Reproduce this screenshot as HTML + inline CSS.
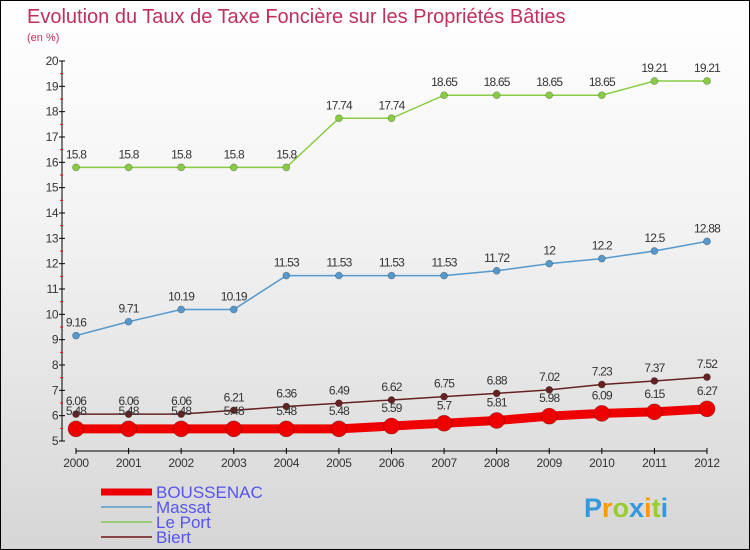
<!DOCTYPE html>
<html><head><meta charset="utf-8"><style>
body{margin:0}
#c{position:relative;width:748px;height:548px;border:1px solid #000;background:linear-gradient(#fff,#f3f3f3 40%,#d6d6d6);font-family:"Liberation Sans","DejaVu Sans",sans-serif;overflow:hidden}
</style></head><body>
<div id="c">
<svg id="s" width="748" height="548" style="position:absolute;left:0;top:0">
<text x="26" y="22" font-size="20" fill="#c0305a">Evolution du Taux de Taxe Foncière sur les Propriétés Bâties</text>
<text x="26" y="40" font-size="11" fill="#c0305a">(en %)</text>
</svg>
</div>
<script>
const years=[2000,2001,2002,2003,2004,2005,2006,2007,2008,2009,2010,2011,2012];
const boussenac=[5.48,5.48,5.48,5.48,5.48,5.48,5.59,5.7,5.81,5.98,6.09,6.15,6.27];
const massat=[9.16,9.71,10.19,10.19,11.53,11.53,11.53,11.53,11.72,12,12.2,12.5,12.88];
const leport=[15.8,15.8,15.8,15.8,15.8,17.74,17.74,18.65,18.65,18.65,18.65,19.21,19.21];
const biert=[6.06,6.06,6.06,6.21,6.36,6.49,6.62,6.75,6.88,7.02,7.23,7.37,7.52];
const yTicks=[5,6,7,8,9,10,11,12,13,14,15,16,17,18,19,20];
const NS="http://www.w3.org/2000/svg";
const s=document.getElementById('s');
const X=i=>75+i*(706-75)/(years.length-1);
const Y=v=>440-(v-5)*(380/15);
function mk(t,a,p){const e=document.createElementNS(NS,t);for(const k in a)e.setAttribute(k,a[k]);(p||s).appendChild(e);return e;}
let ax=mk('line',{x1:61,y1:Y(20),x2:61,y2:Y(5),stroke:'#000','stroke-width':1});


yTicks.forEach(v=>{
  mk('line',{x1:58,x2:64,y1:Y(v),y2:Y(v),stroke:'#000'});
  if(v<20){mk('line',{x1:59,x2:62,y1:Y(v+0.5),y2:Y(v+0.5),stroke:'#f00'});}
  const t=mk('text',{x:57,y:Y(v)+4,'font-size':12,fill:'#333','text-anchor':'end','letter-spacing':'-0.5'});
  t.textContent=v;
  
  
});
let xa=mk('line',{x1:75,y1:450,x2:706,y2:450,stroke:'#000'});


years.forEach((y,i)=>{
  mk('line',{x1:X(i),x2:X(i),y1:447,y2:453,stroke:'#000'});
  const t=mk('text',{x:X(i),y:466,'font-size':12,fill:'#333','text-anchor':'middle','letter-spacing':'-0.3'});
  t.textContent=y;
  
  
});
function series(data,color,w,r,name,off){
  const g=mk('g',{});
  
  
  mk('polyline',{points:data.map((v,i)=>X(i)+','+Y(v)).join(' '),fill:'none',stroke:color,'stroke-width':w},g);
  data.forEach((v,i)=>{
    const c=mk('circle',{cx:X(i),cy:Y(v),r:r,fill:color,stroke:'rgba(0,0,0,0.3)','stroke-width':0.7},g);
    
    
    const t=mk('text',{x:X(i),y:Y(v)-off,'font-size':12,fill:'#333','text-anchor':'middle','letter-spacing':'-0.8'},g);
    t.textContent=v;
  });
}
series(leport,'#88cc44',1.5,3.5,'le-port-series',9);
series(massat,'#5599cc',1.5,3.5,'massat-series',9);
series(biert,'#662222',1.5,3.5,'biert-series',9);
series(boussenac,'#ee0000',9,8,'boussenac-series',14);
const leg=[['BOUSSENAC','#ee0000',7,497],['Massat','#77aacc',2,512],['Le Port','#99cc77',2,527],['Biert','#884444',2,542]];
leg.forEach(l=>{
  const g=mk('g',{});
  
  
  mk('line',{x1:100,x2:151,y1:l[3]-6,y2:l[3]-6,stroke:l[1],'stroke-width':l[2]},g);
  const t=mk('text',{x:155,y:l[3],'font-size':17,fill:'#5555ee'},g);
  t.textContent=l[0];
});
const lg=mk('text',{x:583,y:516,'font-size':27,'font-weight':'bold'});


[['P','#3399dd'],['r','#ff9900'],['o','#99cc33'],['x','#3399dd'],['i','#ff9900'],['t','#99cc33'],['i','#3399dd']].forEach(p=>{const ts=mk('tspan',{fill:p[1]},lg);ts.textContent=p[0];});
</script>
</body></html>
